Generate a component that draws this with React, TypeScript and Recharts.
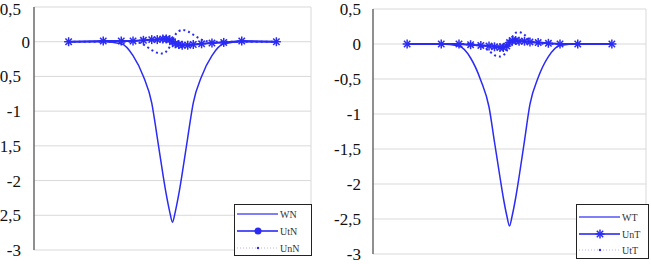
import React from "react";
import { CartesianGrid, Legend, Line, LineChart, XAxis, YAxis } from "recharts";

// x positions of the samples (same grid on both panels)
const xPos = [-1.5, -1, -0.74, -0.57, -0.42, -0.3, -0.22, -0.14, -0.09, -0.04, 0, 0.04, 0.09, 0.14, 0.22, 0.3, 0.42, 0.57, 0.74, 1, 1.5];

// left panel
const wN = [0, 0, -0.03, -0.2, -0.5, -0.88, -1.38, -1.9, -2.2, -2.45, -2.6, -2.45, -2.2, -1.9, -1.38, -0.88, -0.5, -0.2, -0.03, 0, 0];
const utN = [0, 0.01, 0.01, 0.01, 0.02, 0.03, 0.03, 0.04, 0.04, 0.03, 0, -0.03, -0.04, -0.05, -0.05, -0.04, -0.03, -0.02, -0.01, 0.01, 0];
const unN = [0, 0, 0, 0, -0.04, -0.12, -0.16, -0.17, -0.14, -0.07, 0.02, 0.1, 0.15, 0.17, 0.15, 0.1, 0.03, 0, 0, 0, 0];

// right panel
const wT = [0, 0, -0.03, -0.2, -0.52, -0.9, -1.4, -1.9, -2.2, -2.45, -2.6, -2.45, -2.2, -1.9, -1.38, -0.86, -0.48, -0.18, -0.02, 0, 0];
const unT = [0, 0, 0, -0.01, -0.02, -0.03, -0.04, -0.05, -0.05, -0.03, 0.02, 0.05, 0.05, 0.04, 0.04, 0.03, 0.02, 0.01, 0, 0, 0];
const utT = [0, 0, 0, 0, -0.03, -0.1, -0.16, -0.18, -0.16, -0.1, 0.02, 0.1, 0.16, 0.17, 0.13, 0.06, 0.01, 0, 0, 0, 0];

const yTicks = [-3, -2.5, -2, -1.5, -1, -0.5, 0, 0.5];
const xTicks = [-2, -1, 0, 1, 2];

const BLUE = "#2b2bf5";
const SERIF = "Liberation Serif, DejaVu Serif, serif";

const leftData = xPos.map((x, i) => ({ x, w: wN[i], s: utN[i], d: unN[i] }));
const rightData = xPos.map((x, i) => ({ x, w: wT[i], s: unT[i], d: utT[i] }));

const starShape = (cx: number, cy: number, key?: string) => {
  const r = 4.5;
  const d = 3.2;
  return (
    <g key={key} stroke={BLUE} strokeWidth={1.5}>
      <line x1={cx - r} y1={cy} x2={cx + r} y2={cy} />
      <line x1={cx} y1={cy - r} x2={cx} y2={cy + r} />
      <line x1={cx - d} y1={cy - d} x2={cx + d} y2={cy + d} />
      <line x1={cx - d} y1={cy + d} x2={cx + d} y2={cy - d} />
    </g>
  );
};

const renderStar = (p: any) => {
  if (p.cx == null || p.cy == null) return <g key={`n${p.index}`} />;
  return starShape(p.cx, p.cy, `s${p.index}`);
};

const makeTick = (gap: number, zeroGap: number) => (p: any) => {
  const v = p.payload.value;
  return (
    <text
      x={p.x - (v === 0 ? zeroGap : gap)}
      y={p.y}
      dy="0.35em"
      textAnchor="end"
      style={{ fontFamily: SERIF, fontSize: 17 }}
      fill="#111"
    >
      {String(v).replace(".", ",")}
    </text>
  );
};

type LegendProps = { names: string[]; w: number; h: number; rows: number[]; markerDot: boolean };

const LegendBox = ({ names, w, h, rows, markerDot }: LegendProps) => (
  <svg width={w} height={h} style={{ display: "block" }}>
    <rect x={0.5} y={0.5} width={w - 1} height={h - 1} fill="#fff" stroke="#222" />
    <line x1={3} x2={44} y1={rows[0]} y2={rows[0]} stroke={BLUE} strokeOpacity={0.8} strokeWidth={1.5} />
    <line x1={3} x2={44} y1={rows[1]} y2={rows[1]} stroke={BLUE} strokeOpacity={0.8} strokeWidth={1.8} />
    {markerDot ? <circle cx={24} cy={rows[1]} r={3.5} fill={BLUE} /> : starShape(24, rows[1])}
    <line x1={3} x2={44} y1={rows[2]} y2={rows[2]} stroke={BLUE} strokeOpacity={0.35} strokeWidth={1} strokeDasharray="1 2" />
    <circle cx={24} cy={rows[2]} r={1.2} fill={BLUE} />
    {names.map((n, i) => (
      <text key={n} x={46} y={rows[i]} dy="0.35em" style={{ fontFamily: SERIF, fontSize: 10 }} fill="#333">
        {n}
      </text>
    ))}
  </svg>
);

type PanelProps = {
  data: { x: number; w: number; s: number; d: number }[];
  names: string[];
  width: number;
  margin: { top: number; right: number; bottom: number; left: number };
  yWidth: number;
  gap: number;
  zeroGap: number;
  legend: { left: number; top: number; w: number; h: number; rows: number[] };
  markerDot: boolean;
};

const Panel = ({ data, names, width, margin, yWidth, gap, zeroGap, legend, markerDot }: PanelProps) => (
  <LineChart width={width} height={264} data={data} margin={margin}>
    <CartesianGrid stroke="#d9d9d9" vertical horizontal />
    <XAxis
      dataKey="x"
      type="number"
      domain={[-2, 2]}
      ticks={xTicks}
      tick={false}
      height={0}
      mirror
      tickSize={3}
      tickLine={{ stroke: "#444" }}
      axisLine={{ stroke: "#333" }}
    />
    <XAxis xAxisId="top" dataKey="x" type="number" domain={[-2, 2]} ticks={xTicks} orientation="top" tick={false} tickLine={false} height={0} axisLine={{ stroke: "#333" }} />
    <YAxis
      type="number"
      domain={[-3, 0.5]}
      ticks={yTicks}
      width={yWidth}
      tickSize={0}
      tickMargin={0}
      tickLine={false}
      tick={makeTick(gap, zeroGap)}
      axisLine={{ stroke: "#333" }}
    />
    <YAxis
      yAxisId="r"
      orientation="right"
      type="number"
      domain={[-3, 0.5]}
      ticks={yTicks}
      width={0}
      mirror
      tick={false}
      tickSize={3}
      tickLine={{ stroke: "#444" }}
      axisLine={{ stroke: "#333" }}
    />
    <Line dataKey="w" type="monotone" stroke={BLUE} strokeWidth={1.5} dot={false} isAnimationActive={false} />
    <Line dataKey="s" type="linear" stroke={BLUE} strokeWidth={2} dot={renderStar} isAnimationActive={false} />
    <Line dataKey="d" type="monotone" stroke={BLUE} strokeWidth={2} strokeDasharray="2 3" dot={false} isAnimationActive={false} />
    <Legend
      layout="vertical"
      align="center"
      verticalAlign="middle"
      wrapperStyle={{ left: legend.left, top: legend.top, width: legend.w, height: legend.h }}
      content={() => <LegendBox names={names} w={legend.w} h={legend.h} rows={legend.rows} markerDot={markerDot} />}
    />
  </LineChart>
);

export default function App() {
  return (
    <div style={{ position: "absolute", left: 0, top: 0, width: 651, height: 264, overflow: "hidden", background: "#fff" }}>
      <div style={{ position: "absolute", left: 0, top: 0 }}>
        <Panel
          data={leftData}
          names={["WN", "UtN", "UnN"]}
          width={330}
          margin={{ top: 7, right: 19, bottom: 14, left: 0 }}
          yWidth={34}
          gap={13}
          zeroGap={4}
          legend={{ left: 234, top: 204, w: 78, h: 52, rows: [10, 27, 44] }}
          markerDot
        />
      </div>
      <div style={{ position: "absolute", left: 330, top: 0 }}>
        <Panel
          data={rightData}
          names={["WT", "UnT", "UtT"]}
          width={321}
          margin={{ top: 9, right: 5, bottom: 10, left: 0 }}
          yWidth={43}
          gap={12}
          zeroGap={12}
          legend={{ left: 246, top: 204, w: 73, h: 55, rows: [13, 30, 46] }}
          markerDot={false}
        />
      </div>
    </div>
  );
}
